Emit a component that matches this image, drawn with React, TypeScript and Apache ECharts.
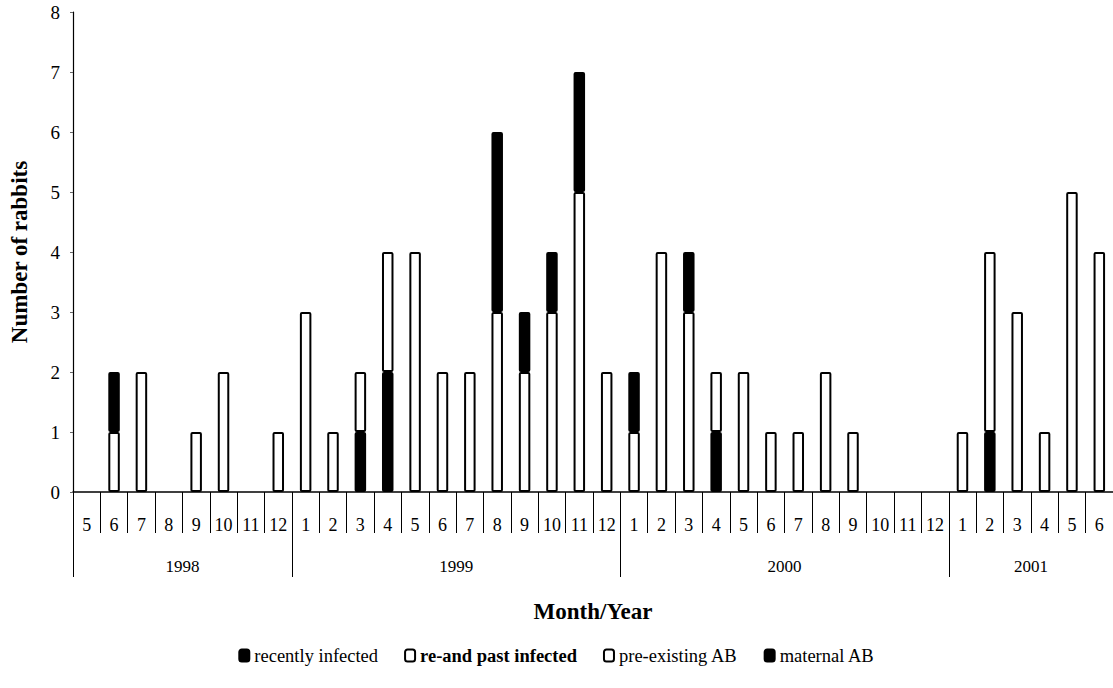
import React, { useEffect, useRef } from 'react';
import * as echarts from 'echarts';

const months = [
  '5', '6', '7', '8', '9', '10', '11', '12',
  '1', '2', '3', '4', '5', '6', '7', '8', '9', '10', '11', '12',
  '1', '2', '3', '4', '5', '6', '7', '8', '9', '10', '11', '12',
  '1', '2', '3', '4', '5', '6',
];
const years = ['1998', '1999', '2000', '2001'];
const yearCenters = [4, 14, 26, 35];
const yearBoundaries = [0, 8, 20, 32];
const yTicks = [0, 8, 1];

const recentlyInfected = [
  0, 0, 0, 0, 0, 0, 0, 0,
  0, 0, 1, 2, 0, 0, 0, 0, 0, 0, 0, 0,
  0, 0, 0, 1, 0, 0, 0, 0, 0, 0, 0, 0,
  0, 1, 0, 0, 0, 0,
];
const reAndPastInfected = [
  0, 1, 2, 0, 1, 2, 0, 1,
  3, 1, 1, 2, 4, 2, 2, 3, 2, 3, 5, 2,
  1, 4, 3, 1, 2, 1, 1, 2, 1, 0, 0, 0,
  1, 3, 3, 1, 5, 4,
];
const preExistingAB = [
  0, 0, 0, 0, 0, 0, 0, 0,
  0, 0, 0, 0, 0, 0, 0, 0, 0, 0, 0, 0,
  0, 0, 0, 0, 0, 0, 0, 0, 0, 0, 0, 0,
  0, 0, 0, 0, 0, 0,
];
const maternalAB = [
  0, 1, 0, 0, 0, 0, 0, 0,
  0, 0, 0, 0, 0, 0, 0, 3, 1, 1, 2, 0,
  1, 0, 1, 0, 0, 0, 0, 0, 0, 0, 0, 0,
  0, 0, 0, 0, 0, 0,
];

const seriesNames = ['recently infected', 're-and past infected', 'pre-existing AB', 'maternal AB'];
const seriesData = [recentlyInfected, reAndPastInfected, preExistingAB, maternalAB];
const seriesFill = ['#000000', '#ffffff', '#ffffff', '#000000'];

const FONT = '"Liberation Serif", "DejaVu Serif", serif';

export default function App() {
  const ref = useRef<HTMLDivElement>(null);
  useEffect(() => {
    if (!ref.current) return;
    const chart = echarts.init(ref.current, null, { renderer: 'svg' });
    const series = seriesNames.map((name, i) => ({
      name,
      type: 'bar',
      stack: 'total',
      barWidth: 11.5,
      xAxisIndex: 0,
      data: seriesData[i].map((v) => (v === 0 ? null : v)),
      itemStyle: {
        color: seriesFill[i],
        borderColor: '#000000',
        borderWidth: 2,
        borderRadius: 1,
      },
    }));
    chart.setOption({
      animation: false,
      backgroundColor: '#ffffff',
      grid: { left: 69, right: -6, top: 12, bottom: 196, containLabel: false },
      legend: {
        top: 641,
        left: 'center',
        itemWidth: 10,
        itemHeight: 12,
        itemGap: 26,
        textStyle: { fontFamily: FONT, fontSize: 18.5, color: '#000' },
        data: seriesNames.map((n, i) =>
          i === 1 ? { name: n, textStyle: { fontWeight: 'bold' } } : { name: n }
        ),
      },
      xAxis: [
        {
          type: 'category',
          data: months,
          position: 'bottom',
          axisLine: { show: true, lineStyle: { color: '#000', width: 1.5 } },
          axisTick: { show: true, interval: 0, length: 41, lineStyle: { color: '#000', width: 1 } },
          axisLabel: { interval: 0, margin: 24, fontFamily: FONT, fontSize: 18, color: '#000' },
          splitLine: { show: false },
          name: 'Month/Year',
          nameLocation: 'middle',
          nameGap: 108,
          nameTextStyle: { fontFamily: FONT, fontSize: 23, fontWeight: 'bold', color: '#000' },
        },
        {
          type: 'value',
          min: 0,
          max: 38,
          position: 'bottom',
          axisLine: { show: false },
          splitLine: { show: false },
          axisTick: {
            show: true,
            customValues: yearBoundaries,
            length: 85,
            lineStyle: { color: '#000', width: 1 },
          },
          axisLabel: {
            show: true,
            customValues: yearCenters,
            margin: 66,
            fontFamily: FONT,
            fontSize: 17,
            color: '#000',
            formatter: (v: number) => {
              const k = yearCenters.indexOf(v);
              return k >= 0 ? years[k] : '';
            },
          },
        },
      ],
      yAxis: {
        type: 'value',
        min: yTicks[0],
        max: yTicks[1],
        interval: yTicks[2],
        axisLine: { show: true, lineStyle: { color: '#000', width: 1.2 } },
        axisTick: { show: true, length: 3, lineStyle: { color: '#666' } },
        axisLabel: { margin: 13, fontFamily: FONT, fontSize: 19, color: '#000' },
        splitLine: { show: false },
        name: 'Number of rabbits',
        nameLocation: 'middle',
        nameGap: 42,
        nameTextStyle: { fontFamily: FONT, fontSize: 23, fontWeight: 'bold', color: '#000' },
      },
      series,
    });
    return () => chart.dispose();
  }, []);
  return (
    <div
      ref={ref}
      style={{ position: 'absolute', left: 0, top: 0, width: 1113, height: 688, background: '#fff' }}
    />
  );
}
